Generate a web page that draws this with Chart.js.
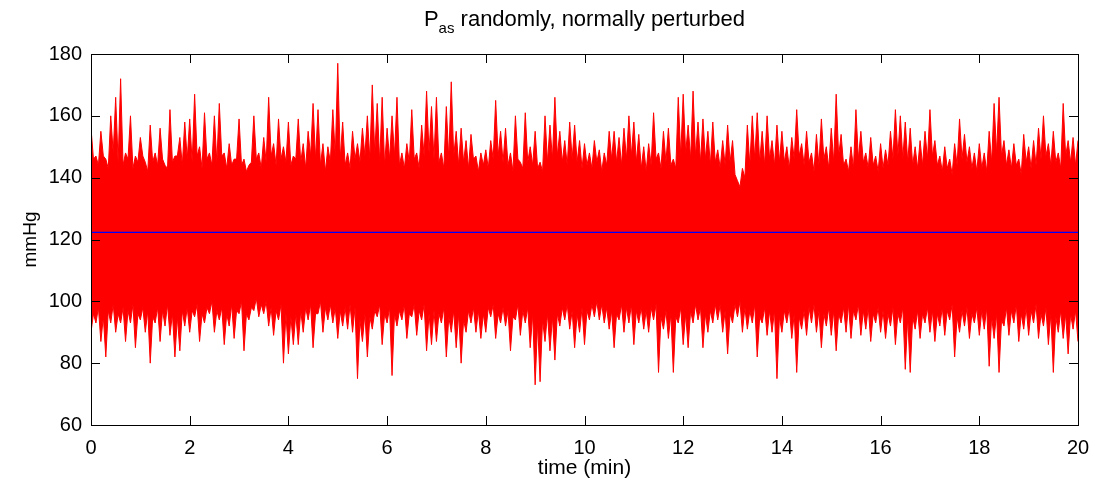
<!DOCTYPE html>
<html>
<head>
<meta charset="utf-8">
<script src="https://cdn.jsdelivr.net/npm/chart.js@4.4.1/dist/chart.umd.min.js"></script>
<style>
  html, body { margin: 0; padding: 0; background: #fff; }
  #wrap { width: 1095px; height: 484px; }
</style>
</head>
<body>
<div id="wrap"><canvas id="pasChart" width="1095" height="484"></canvas></div>
<script>
// time step of the envelope samples (min)
const timeStep = 0.1;

// upper peaks of the perturbed P_as trace (mmHg)
const upperEnv = [
  156,147,155,146,160,166,172,148,160,147, 153,145,157,148,156,144,162,147,153,158,
  159,167,150,161,148,160,164,148,151,146, 159,146,144,160,148,153,166,151,159,150,
  158,147,159,151,155,164,162,151,150,162, 177,158,148,155,151,156,160,170,164,166,
  156,160,166,148,151,162,148,157,168,163, 166,148,163,171,155,156,152,154,147,148,
  149,152,165,155,156,148,160,145,161,150, 155,145,160,157,166,155,152,158,157,152,
  151,148,152,149,148,155,155,153,156,160, 158,154,150,151,161,148,155,156,146,166,
  167,157,168,158,159,155,158,149,152,157, 152,139,143,157,160,161,155,160,152,157,
  155,150,153,162,151,155,148,154,159,150, 156,167,154,146,150,162,155,148,153,147,
  151,149,155,162,160,158,156,150,152,155, 162,152,147,150,146,151,159,154,150,148,
  151,148,155,164,166,152,149,151,146,154, 150,152,156,160,151,155,148,164,152,153,
  152
];

// top edge of the solid band between the peaks (half a step later)
const upperGap = [
  146,144,147,143,148,145,144,146,143,145, 147,142,145,144,146,143,145,147,144,146,
  145,147,143,146,144,145,147,143,144,146, 144,142,145,146,143,145,147,144,146,145,
  144,146,145,143,147,146,144,142,145,147, 146,144,143,146,145,147,146,148,145,144,
  146,147,144,143,145,146,143,147,148,146, 145,143,146,147,144,145,143,146,142,144,
  143,146,147,145,144,142,146,143,145,144, 143,142,145,146,147,145,144,146,145,143,
  144,143,145,142,144,146,145,144,146,147, 145,143,142,144,146,143,145,144,143,147,
  148,146,147,145,146,144,145,143,144,145, 141,137,140,144,146,145,144,146,144,145,
  145,143,146,147,144,145,142,144,146,143, 145,147,144,142,143,146,145,143,144,142,
  143,144,146,147,146,145,144,143,144,146, 147,144,142,143,141,144,146,145,143,142,
  143,142,145,148,147,144,143,144,141,145, 143,144,146,147,144,145,143,147,145,144
];

// lower troughs of the trace (mmHg)
const lowerEnv = [
  90,93,87,82,93,90,93,87,93,85, 94,90,80,93,87,92,89,82,84,92,
  90,95,87,93,96,90,94,86,92,88, 96,84,94,97,95,96,92,89,94,80,
  83,86,86,90,94,85,96,90,94,93, 88,92,91,90,75,87,82,91,95,86,
  93,76,92,94,88,95,89,94,84,86, 87,93,82,90,85,80,90,93,90,88,
  90,95,88,93,92,84,94,89,93,85, 73,74,87,84,81,92,94,91,85,90,
  86,94,95,94,93,91,85,94,90,93, 86,93,91,90,94,77,91,88,77,93,
  86,85,93,94,85,90,93,94,90,83, 93,95,90,91,93,82,93,89,90,75,
  90,93,88,77,91,89,93,90,85,92, 89,84,93,90,88,94,89,91,87,93,
  90,88,92,86,93,78,77,91,88,93, 90,87,92,89,94,82,90,92,88,93,
  89,91,79,88,77,92,89,93,87,91, 89,93,88,92,86,77,90,88,83,91,
  87
];

// bottom edge of the solid band between the troughs
const lowerGap = [
  96,98,95,97,99,96,98,97,99,96, 98,97,95,98,97,99,96,95,97,98,
  97,99,96,98,100,97,98,96,99,97, 100,96,98,101,99,100,98,97,99,96,
  95,96,97,98,99,96,100,98,99,98, 97,98,99,98,94,96,95,97,99,96,
  98,96,97,99,96,99,97,99,96,97, 96,98,95,97,96,94,97,98,97,96,
  98,99,96,98,97,95,99,97,98,96, 93,94,96,95,96,98,99,97,96,98,
  97,99,100,99,98,97,96,99,98,99, 97,98,97,98,99,95,97,96,95,98,
  96,97,99,98,96,97,99,99,97,96, 99,100,98,97,99,95,98,97,97,95,
  97,98,96,95,97,98,99,97,96,98, 97,96,98,99,97,99,97,98,96,98,
  97,96,98,96,98,95,95,97,96,98, 97,96,98,97,99,95,97,98,96,98,
  97,98,95,96,94,98,97,99,96,98, 97,99,96,98,96,95,97,96,96,97
];

// mean level (blue line)
const meanLevel = 122.3;

// axis ticks
const xTicks = [0, 2, 4, 6, 8, 10, 12, 14, 16, 18, 20];
const yTicks = [60, 80, 100, 120, 140, 160, 180];

// merge peaks and the band edge between them into one point list
function mergePoints(peaks, gaps) {
  const pts = [];
  peaks.forEach((v, i) => {
    pts.push({ x: i * timeStep, y: v });
    if (i < gaps.length) pts.push({ x: i * timeStep + timeStep / 2, y: gaps[i] });
  });
  return pts;
}

const upperPts = mergePoints(upperEnv, upperGap);
const lowerPts = mergePoints(lowerEnv, lowerGap);
const meanPts = [{ x: xTicks[0], y: meanLevel }, { x: xTicks[xTicks.length - 1], y: meanLevel }];

const fontFamily = '"Liberation Sans", Arial, sans-serif';

// box around the plot with inward ticks on all four sides, matlab style
const boxPlugin = {
  id: 'boxTicks',
  afterDraw(chart) {
    const ctx = chart.ctx;
    const a = chart.chartArea;
    const xs = chart.scales.x;
    const ys = chart.scales.y;
    const len = 9;
    ctx.save();
    ctx.strokeStyle = '#000';
    ctx.lineWidth = 1;
    ctx.beginPath();
    xTicks.forEach(t => {
      const px = Math.round(xs.getPixelForValue(t)) + 0.5;
      ctx.moveTo(px, a.bottom); ctx.lineTo(px, a.bottom - len);
      ctx.moveTo(px, a.top); ctx.lineTo(px, a.top + len);
    });
    yTicks.forEach(t => {
      const py = Math.round(ys.getPixelForValue(t)) + 0.5;
      ctx.moveTo(a.left, py); ctx.lineTo(a.left + len, py);
      ctx.moveTo(a.right, py); ctx.lineTo(a.right - len, py);
    });
    ctx.stroke();
    ctx.strokeRect(Math.round(a.left) + 0.5, Math.round(a.top) + 0.5,
      Math.round(a.right - a.left), Math.round(a.bottom - a.top));
    ctx.restore();
  }
};

// title with subscript, chart.js title can't do that
const titlePlugin = {
  id: 'subTitle',
  afterDraw(chart) {
    const ctx = chart.ctx;
    const a = chart.chartArea;
    const cx = (a.left + a.right) / 2;
    const base = 26;
    ctx.save();
    ctx.fillStyle = '#000';
    ctx.textBaseline = 'alphabetic';
    ctx.textAlign = 'left';
    const big = '22px ' + fontFamily;
    const small = '15px ' + fontFamily;
    ctx.font = big;
    const wP = ctx.measureText('P').width;
    const wRest = ctx.measureText(' randomly, normally perturbed').width;
    ctx.font = small;
    const wSub = ctx.measureText('as').width;
    let x = cx - (wP + wSub + wRest) / 2;
    ctx.font = big;
    ctx.fillText('P', x, base);
    x += wP;
    ctx.font = small;
    ctx.fillText('as', x, base + 7);
    x += wSub;
    ctx.font = big;
    ctx.fillText(' randomly, normally perturbed', x, base);
    ctx.restore();
  }
};

const ctxP = document.getElementById('pasChart').getContext('2d');
const pasChart = new Chart(ctxP, {
  type: 'line',
  data: {
    datasets: [
      {
        label: 'mean',
        data: meanPts,
        borderColor: '#0000ff',
        borderWidth: 1.2,
        pointRadius: 0,
        fill: false,
        order: 0
      },
      {
        label: 'upper',
        data: upperPts,
        borderColor: '#ff0000',
        backgroundColor: '#ff0000',
        borderWidth: 1,
        pointRadius: 0,
        tension: 0,
        fill: { value: meanLevel },
        order: 1
      },
      {
        label: 'lower',
        data: lowerPts,
        borderColor: '#ff0000',
        backgroundColor: '#ff0000',
        borderWidth: 1,
        pointRadius: 0,
        tension: 0,
        fill: { value: meanLevel },
        order: 1
      }
    ]
  },
  options: {
    responsive: false,
    animation: false,
    devicePixelRatio: 1,
    layout: { padding: { top: 54, right: 17, left: 0, bottom: 0 } },
    plugins: {
      legend: { display: false },
      tooltip: { enabled: false },
      title: { display: false }
    },
    scales: {
      x: {
        type: 'linear',
        min: 0,
        max: 20,
        afterFit: s => { s.height = 59; s.paddingRight = 0; s.paddingLeft = 0; },
        afterBuildTicks: s => { s.ticks = xTicks.map(v => ({ value: v })); },
        grid: { display: false, drawTicks: false },
        border: { display: false },
        ticks: { color: '#000', padding: 11, font: { size: 20, family: fontFamily } },
        title: {
          display: true,
          text: 'time (min)',
          color: '#000',
          padding: { top: 0, bottom: 3 },
          font: { size: 21, family: fontFamily }
        }
      },
      y: {
        min: 60,
        max: 180,
        afterFit: s => { s.width = 91; },
        afterBuildTicks: s => { s.ticks = yTicks.map(v => ({ value: v })); },
        grid: { display: false, drawTicks: false },
        border: { display: false },
        ticks: { color: '#000', padding: 9, font: { size: 20, family: fontFamily } },
        title: {
          display: true,
          text: 'mmHg',
          color: '#000',
          padding: { top: 19, bottom: 0 },
          font: { size: 19, family: fontFamily }
        }
      }
    }
  },
  plugins: [boxPlugin, titlePlugin]
});
</script>
</body>
</html>
